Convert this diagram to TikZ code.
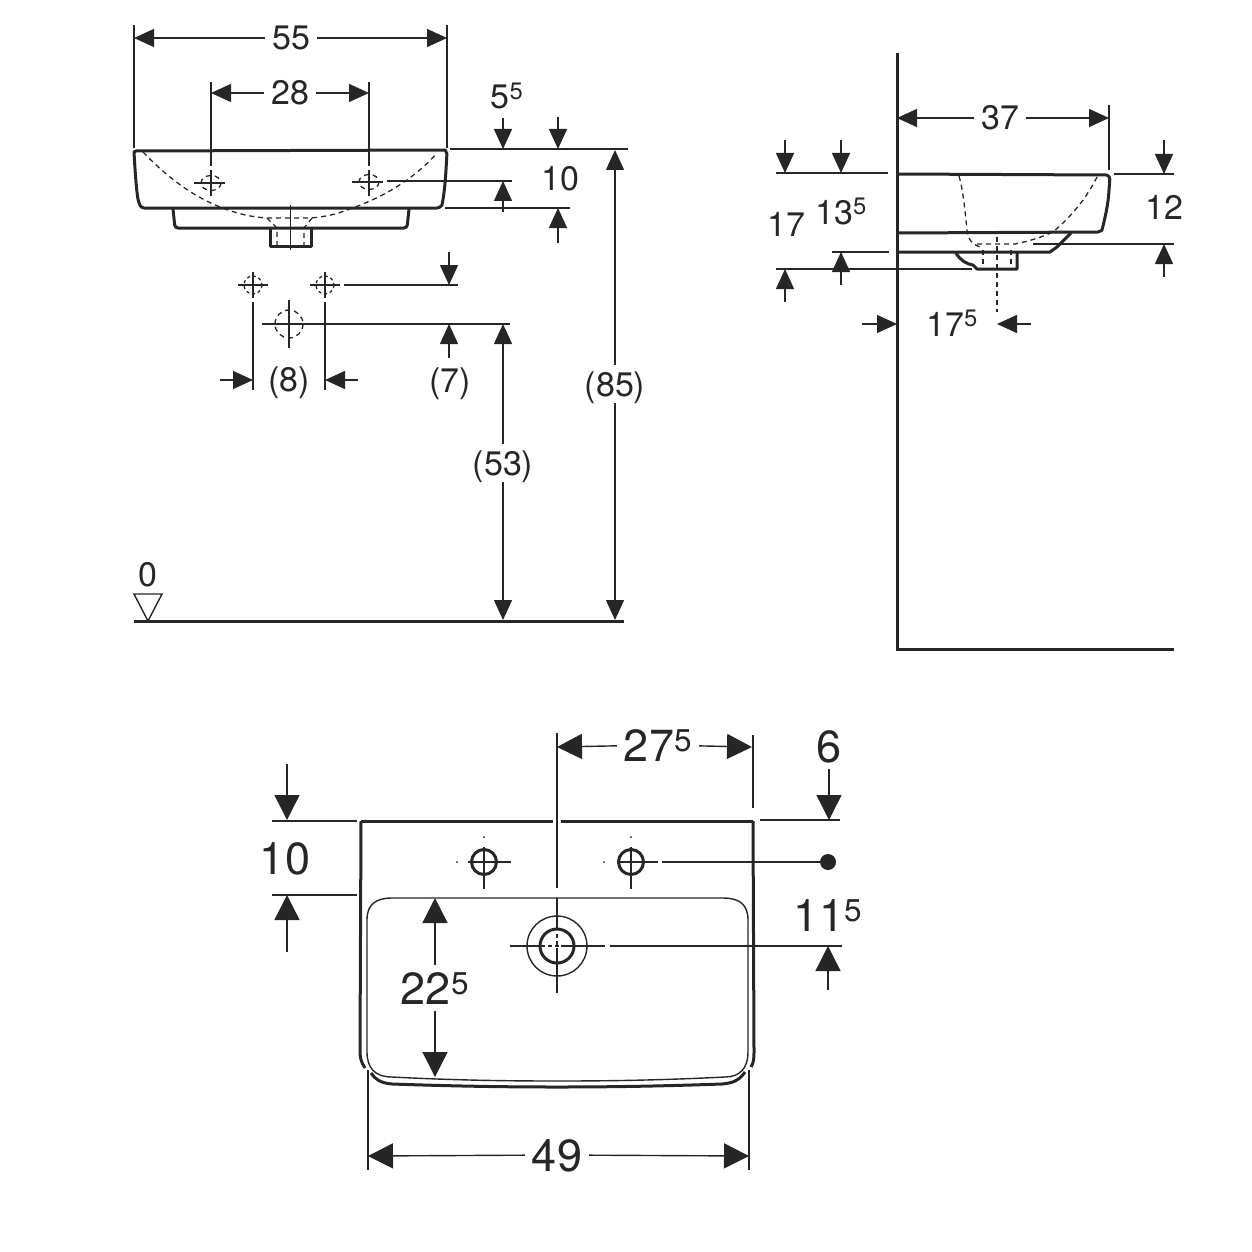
\documentclass[tikz,border=0pt]{standalone}
\usepackage{fontspec}
\setmainfont{TeX Gyre Heros}
\usetikzlibrary{arrows.meta,shapes.geometric}
\tikzset{%
	lbl/.style      = {inner sep=7pt, text height=24pt, text depth=0pt, font=\fontsize{34}{36}\selectfont, text=black!85},
	biglbl/.style   = {lbl, text height=32pt, font=\fontsize{45}{48}\selectfont},
	thinl/.style    = {line width=1.4pt, black!85},
	outline/.style  = {line width=3pt, black!85, line join=round},
	bowl/.style     = {line width=1.3pt, black!85, dash pattern=on 5pt off 4pt},
	tip/.style      = {thinl, -{Triangle[length=20pt,width=18pt]}},
	bigtip/.style   = {thinl, -{Triangle[length=25pt,width=25pt]}},
}
\begin{document}
\begin{tikzpicture}[x=1pt,y=-1pt]
	\useasboundingbox (0,0) rectangle (1252,1252);
	% front view
	\draw[outline] (136,151) -- (445,150) [rounded corners=2pt] -- (447,152) -- (446,170) [sharp corners] .. controls (445,185) and (444,195) .. (442,205) [rounded corners=3pt] -- (440,208) -- (141,208) -- (138,200) [sharp corners] .. controls (136,185) and (135,170) .. (134,152) -- cycle;
	\draw[outline, rounded corners=3pt] (173,209) -- (175,228) -- (407,228) -- (409,209);
	\draw[outline] (270,228) -- (270,246) -- (311,246) -- (311,228);
	\draw[bowl] (143,152) .. controls (165,175) and (190,195) .. (220,207) .. controls (235,213) and (250,217) .. (267,218) -- (310,218) .. controls (325,217) and (337,214) .. (347,210) .. controls (385,197) and (415,178) .. (437,153);
	\draw[bowl] (267,218) -- (277,228) -- (277,246) (312,218) -- (304,228) -- (304,246);
	\draw[thinl] (290.5,205) -- (290.5,250);
	\draw[bowl] (211,183) ellipse (10 and 7.5) (369,182) ellipse (10 and 7.5);
	\draw[thinl] (194,183) -- (225,183) (352,182) -- (383,182) (211,170) -- (211,196) (369,170) -- (369,196);
	\draw[thinl] (134,25) -- (134,148) (447,25) -- (447,148) (211,82) -- (211,166) (369,82) -- (369,166);
	\draw[thinl] (387,181) -- (512,181) (450,149) -- (628,149) (445,208) -- (570,208);
	\node[lbl] (w55) at (291,38) {55};
	\coordinate (w55l) at (134,38);
	\coordinate (w55r) at (447,38);
	\draw[tip] (w55) -- (w55l);
	\draw[tip] (w55) -- (w55r);
	\node[lbl] (w28) at (290,93) {28};
	\coordinate (w28l) at (211,93);
	\coordinate (w28r) at (369,93);
	\draw[tip] (w28) -- (w28l);
	\draw[tip] (w28) -- (w28r);
	\node[lbl] (h55) at (507,97) {5\textsuperscript{5}};
	\draw[tip] (503,118) -- (503,149);
	\draw[tip] (503,212) -- (503,181);
	\node[lbl] (h10) at (560,178) {10};
	\draw[tip] (558,117) -- (558,149);
	\draw[tip] (558,243) -- (558,208);
	% connection points
	\draw[bowl, dash pattern=on 3pt off 3pt] (253,285) circle (9) (325,285) circle (9);
	\draw[thinl] (238,285) -- (268,285) (310,285) -- (340,285) (253,272) -- (253,298) (325,272) -- (325,298);
	\draw[thinl] (253,302) -- (253,390) (325,302) -- (325,390) (344,285) -- (458,285);
	\draw[bowl] (303,324) arc (0:180:14) (275,324) arc (180:360:14);
	\draw[thinl] (289,300) -- (289,348) (262,324) -- (510,324);
	\node[lbl] (w8) at (289,379) {(8)};
	\draw[tip] (220,380) -- (253,380);
	\draw[tip] (358,380) -- (325,380);
	\node[lbl] (h7) at (450,380) {(7)};
	\draw[tip] (449,252) -- (449,285);
	\draw[tip] (449,358) -- (449,324);
	\node[lbl] (h53) at (503,463) {(53)};
	\coordinate (h53t) at (503,324);
	\coordinate (h53b) at (503,620);
	\draw[tip] (h53) -- (h53t);
	\draw[tip] (h53) -- (h53b);
	\node[lbl] (h85) at (615,384) {(85)};
	\coordinate (h85t) at (615,150);
	\coordinate (h85b) at (615,620);
	\draw[tip] (h85) -- (h85t);
	\draw[tip] (h85) -- (h85b);
	% floor
	\draw[line width=3pt, black!85] (134,621) -- (624,621);
	\draw[thinl] (134,594) -- (162,594) -- (148,621) -- cycle;
	\node[lbl] (zero) at (148,574) {0};
	% side view
	\draw[line width=3pt, black!85] (897,53) -- (897,649.5) -- (1174,649.5);
	\draw[outline] (897,174) -- (1106,175) [rounded corners=3pt] -- (1110,176) -- (1109,190) [sharp corners] .. controls (1108,205) and (1105,218) .. (1102,230) [rounded corners=2pt] -- (1100,232) -- (897,233);
	\draw[outline] (1071,233) -- (1057,247) -- (1050,252) -- (897,252);
	\draw[outline] (956,253) .. controls (960,260) and (966,264) .. (973,265) -- (977,269) -- (1017,269) -- (1017,252);
	\draw[bowl] (959,176) .. controls (963,190) and (965,210) .. (967,230) .. controls (968,240) and (972,244) .. (980,247);
	\draw[bowl] (977,244) -- (1015,244) .. controls (1030,241) and (1042,237) .. (1053,232) .. controls (1073,215) and (1087,197) .. (1097,177);
	\draw[bowl] (983,250) -- (983,269) (1011,250) -- (1011,269) (997,237) -- (997,312);
	\draw[thinl] (776,173) -- (888,173) (1114,174) -- (1174,174) (1109,105) -- (1109,170);
	\draw[thinl] (1033,244) -- (1174,244) (832,252) -- (889,252) (776,269) -- (972,269);
	\node[lbl] (d37) at (1000,118) {37};
	\coordinate (d37l) at (897,118);
	\coordinate (d37r) at (1109,118);
	\draw[tip] (d37) -- (d37l);
	\draw[tip] (d37) -- (d37r);
	\node[lbl] (d17) at (786,224) {17};
	\draw[tip] (785,140) -- (785,173);
	\draw[tip] (785,302) -- (785,269);
	\node[lbl] (d135) at (841,212) {13\textsuperscript{5}};
	\draw[tip] (841,140) -- (841,173);
	\draw[tip] (841,285) -- (841,252);
	\node[lbl] (d12) at (1164,207) {12};
	\draw[tip] (1164,140) -- (1164,174);
	\draw[tip] (1164,277) -- (1164,244);
	\node[lbl] (d175) at (952,324) {17\textsuperscript{5}};
	\draw[tip] (862,324) -- (897,324);
	\draw[tip] (1031,324) -- (997,324);
	% top view
	\draw[outline] (361,821) -- (753,821);
	\draw[line width=8pt, white] (553,821) -- (561,821);
	\draw[outline] (365,1068) .. controls (361,1062) and (360,1058) .. (360,1050) -- (361,821);
	\draw[outline] (753,821) -- (754,1050) .. controls (754,1058) and (754,1062) .. (751,1067);
	\draw[outline] (371,1073) .. controls (375,1079) and (380,1083) .. (392,1084) .. controls (450,1086) and (500,1087) .. (557,1087) .. controls (615,1087) and (665,1086) .. (722,1084) .. controls (735,1083) and (740,1079) .. (745,1072);
	\draw[thinl] (392,898) -- (723,898) .. controls (740,898) and (748,905) .. (748,920) -- (748,1052) .. controls (748,1068) and (740,1077) .. (725,1077) .. controls (665,1080) and (615,1081) .. (557,1081) .. controls (500,1081) and (450,1080) .. (392,1077) .. controls (375,1077) and (367,1068) .. (367,1052) -- (367,920) .. controls (367,905) and (375,898) .. (392,898) -- cycle;
	\draw[outline] (484,862) circle (12.5) (631,862) circle (12.5);
	\draw[thinl] (468,862) -- (511,862) (484,847) -- (484,889) (617,862) -- (658,862) (631,847) -- (631,889);
	\fill[black!85] (457,862) circle (1) (484,837) circle (1) (604,862) circle (1) (631,837) circle (1);
	\draw[thinl] (557,946) circle (30);
	\draw[outline] (557,946) circle (17);
	\draw[thinl] (557,733) -- (557,888) (557,898) -- (557,930) (557,950) -- (557,993) (510,946) -- (540,946) (561,946) -- (605,946);
	\draw[bowl, dash pattern=on 4pt off 3pt] (541,946) -- (561,946) (557,934) -- (557,950);
	\draw[thinl] (610,946) -- (842,946) (662,862) -- (828,862) (753,735) -- (753,808) (760,820) -- (840,820);
	\fill[black!85] (828,862) circle (8);
	\draw[thinl] (272,821) -- (357,821) (272,895) -- (357,895) (368,1070) -- (368,1170) (749,1070) -- (749,1170);
	\node[biglbl] (t275) at (658,745) {27\textsuperscript{5}};
	\coordinate (t275l) at (557,747);
	\coordinate (t275r) at (752,747);
	\draw[bigtip] (t275) -- (t275l);
	\draw[bigtip] (t275) -- (t275r);
	\node[biglbl] (t6) at (829,746) {6};
	\coordinate (t6b) at (829,820);
	\draw[bigtip] (t6) -- (t6b);
	\node[biglbl] (t115) at (828,915) {11\textsuperscript{5}};
	\draw[bigtip] (828,990) -- (828,946);
	\node[biglbl] (t10) at (285,858) {10};
	\draw[bigtip] (287,764) -- (287,820);
	\draw[bigtip] (287,952) -- (287,895);
	\node[biglbl] (t225) at (435,988) {22\textsuperscript{5}};
	\coordinate (t225t) at (435,898);
	\coordinate (t225b) at (435,1077);
	\draw[bigtip] (t225) -- (t225t);
	\draw[bigtip] (t225) -- (t225b);
	\node[biglbl] (t49) at (557,1155) {49};
	\coordinate (t49l) at (368,1156);
	\coordinate (t49r) at (749,1156);
	\draw[bigtip] (t49) -- (t49l);
	\draw[bigtip] (t49) -- (t49r);
\end{tikzpicture}
\end{document}
